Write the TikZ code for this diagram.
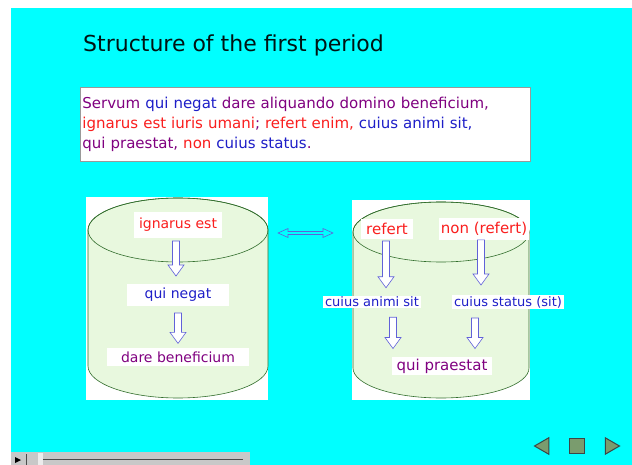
\documentclass[tikz,border=0pt]{standalone}
\usepackage{fontspec}
\setmainfont{DejaVu Sans}
\usetikzlibrary{positioning,calc,shapes.geometric}

\definecolor{slidecyan}{RGB}{0,255,255}
\definecolor{txtpurple}{RGB}{128,0,128}
\definecolor{txtblue}{RGB}{30,30,200}
\definecolor{txtred}{RGB}{250,30,30}
\definecolor{cylfill}{RGB}{232,248,222}
\definecolor{cylline}{RGB}{50,110,45}
\definecolor{navfill}{RGB}{122,156,110}
\definecolor{navline}{RGB}{60,70,70}
\definecolor{bargrey}{RGB}{200,200,200}

\tikzset{
  lbl/.style={fill=white, inner xsep=5pt, inner ysep=4pt, font=\fontsize{14}{16}\selectfont},
  smalllbl/.style={lbl, inner xsep=2pt, inner ysep=1pt, font=\fontsize{13}{15}\selectfont},
  cyl/.style={fill=cylfill, draw=cylline, line width=0.6pt},
  blockarrow/.style={draw=txtblue!70, fill=white, line width=0.6pt, line join=miter},
  navicon/.style={fill=navfill, draw=navline, line width=1pt, inner sep=0pt},
  navtri/.style={navicon, regular polygon, regular polygon sides=3, minimum size=19pt}
}

% hollow arrow pointing down, x taken from the first point
\newcommand{\blockdown}[2]{%
  \draw[blockarrow] let \p1=#1, \p2=#2 in
    (\x1-3.5pt,\y1) -- (\x1-3.5pt,\y2+11pt) -- (\x1-8pt,\y2+11pt) -- (\x1,\y2)
    -- (\x1+8pt,\y2+11pt) -- (\x1+3.5pt,\y2+11pt) -- (\x1+3.5pt,\y1) -- cycle;}

% hollow arrow with two heads, left to right
\newcommand{\blocklr}[2]{%
  \draw[blockarrow, fill=slidecyan] let \p1=#1, \p2=#2 in
    (\x1,\y1) -- (\x1+10pt,\y1+4.5pt) -- (\x1+10pt,\y1+1.5pt) -- (\x2-10pt,\y1+1.5pt)
    -- (\x2-10pt,\y1+4.5pt) -- (\x2,\y1) -- (\x2-10pt,\y1-4.5pt) -- (\x2-10pt,\y1-1.5pt)
    -- (\x1+10pt,\y1-1.5pt) -- (\x1+10pt,\y1-4.5pt) -- cycle;}

\begin{document}
\begin{tikzpicture}[x=1pt,y=-1pt]
    \useasboundingbox (0,0) rectangle (632,465);

    % Slide background
    \fill[slidecyan] (11,8) rectangle (632,465);

    % Title
    \node[anchor=base west, inner sep=0pt, font=\fontsize{22}{26}\selectfont, text=black!85!teal] (title) at (83,52) {Structure of the first period};

    % Latin sentence
    \node[anchor=north west, draw=gray!80, fill=white, line width=0.8pt, minimum width=450pt, minimum height=74pt,
          text width=446pt, align=left, inner xsep=1pt, inner ysep=0pt,
          font=\fontsize{15}{19.6}\selectfont, text=txtpurple] (para) at (80,87)
      {Servum \textcolor{txtblue}{qui negat} dare aliquando domino beneficium,\\
       \textcolor{txtred}{ignarus est iuris umani}; \textcolor{txtred}{refert enim,} \textcolor{txtblue}{cuius animi sit,}\\
       qui praestat, \textcolor{txtred}{non} \textcolor{txtblue}{cuius status}.};

    % Left cylinder
    \fill[white] (86,197) rectangle (268,400);
    \filldraw[cyl] (88,230) -- (88,366) arc[start angle=180, end angle=360, x radius=90pt, y radius=32pt]
        -- (268,230) arc[start angle=0, end angle=180, x radius=90pt, y radius=32pt] -- cycle;
    \draw[cyl, fill=none] (178,230) ellipse[x radius=90pt, y radius=32pt];
    \coordinate (leftedge) at (268,233);

    % Right cylinder
    \fill[white] (352,200) rectangle (530,400);
    \filldraw[cyl] (353,232) -- (353,368) arc[start angle=180, end angle=360, x radius=88pt, y radius=30pt]
        -- (529,232) arc[start angle=0, end angle=180, x radius=88pt, y radius=30pt] -- cycle;
    \draw[cyl, fill=none] (441,232) ellipse[x radius=88pt, y radius=30pt];
    \coordinate (rightedge) at (353,233);

    % Left labels
    \node[lbl, text=txtred, inner ysep=6pt] (ignarus) at (178,225) {ignarus est};
    \node[lbl, text=txtblue, minimum width=102pt] (negat) at (178,295) {qui negat};
    \node[lbl, text=txtpurple, minimum width=142pt] (dare) at (178,357) {dare beneficium};

    % Right labels
    \node[lbl, font=\fontsize{15}{17}\selectfont, text=txtred] (refert) at (387,229) {refert};
    \node[lbl, font=\fontsize{15}{17}\selectfont, text=txtred, inner xsep=2pt] (nonref) at (484,229) {non (refert)};
    \node[smalllbl, text=txtblue] (animi) at (372,302) {cuius animi sit};
    \node[smalllbl, text=txtblue] (status) at (508,302) {cuius status (sit)};
    \node[lbl, font=\fontsize{15}{17}\selectfont, text=txtpurple, minimum width=100pt, inner ysep=2pt] (praestat) at (442,366) {qui praestat};

    % Arrows
    \blockdown{($(ignarus.south)+(-2,3)$)}{($(negat.north)+(0,-8)$)}
    \blockdown{($(negat.south)+(0,7)$)}{($(dare.north)+(0,-4)$)}
    \blockdown{($(refert.south)+(-1,2)$)}{($(animi.north)+(0,-8)$)}
    \blockdown{($(nonref.south)+(-3,0)$)}{($(status.north)+(0,-10)$)}
    \blockdown{($(animi.south)+(21,9)$)}{($(praestat.north)+(0,-8)$)}
    \blockdown{($(status.south)+(-33,9)$)}{($(praestat.north)+(0,-8)$)}
    \blocklr{($(leftedge)+(10,0)$)}{($(rightedge)+(-20,0)$)}

    % Player bar
    \fill[bargrey] (11,452) rectangle (250,465);
    \fill[black] (15,457) -- (21,460) -- (15,463) -- cycle;
    \draw[gray!60!black, line width=0.6pt] (26,454) -- (26,465);
    \fill[gray!15] (38,453) rectangle (43,465);
    \draw[gray!60!black, line width=0.8pt] (43,459) -- (243,459);

    % Navigation buttons
    \node[navtri, shape border rotate=90] (prev) at (544,446) {};
    \node[navicon, minimum size=15pt] (stop) at (577,446) {};
    \node[navtri, shape border rotate=-90] (next) at (610,446) {};
\end{tikzpicture}
\end{document}
